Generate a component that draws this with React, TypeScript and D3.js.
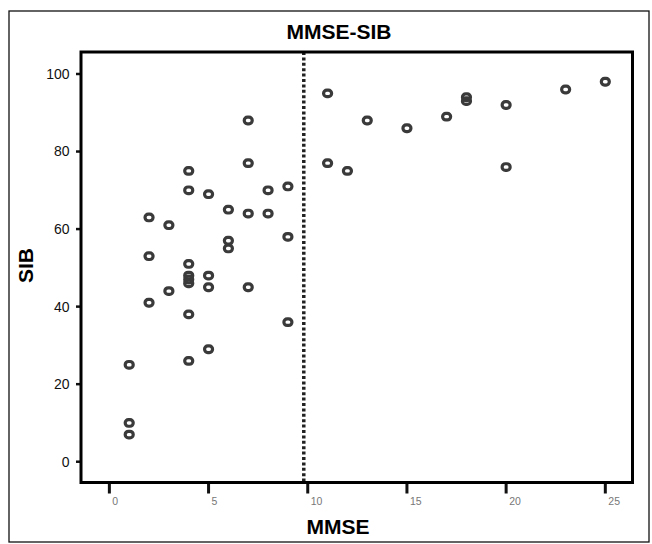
import React from "react";
import * as d3 from "d3";

const mmse = [7, 7, 4, 4, 5, 8, 9, 6, 7, 8, 2, 3, 6, 6, 9, 2, 4, 4, 4, 4, 5, 5, 7, 3, 2, 4, 9, 5, 4, 1, 1, 1, 11, 13, 15, 17, 18, 18, 20, 23, 25, 11, 12, 20];
const sib = [88, 77, 75, 70, 69, 70, 71, 65, 64, 64, 63, 61, 57, 55, 58, 53, 51, 48, 47, 46, 48, 45, 45, 44, 41, 38, 36, 29, 26, 25, 10, 7, 95, 88, 86, 89, 94, 93, 92, 96, 98, 77, 75, 76];
const xTicks = [0, 5, 10, 15, 20, 25];
const yTicks = [0, 20, 40, 60, 80, 100];
const cutoff = [9.8];
const title = "MMSE-SIB";
const xLabel = "MMSE";
const yLabel = "SIB";

export default function App() {
  const W = 652, H = 544;
  const L = 81, R = 632.5, T = 52, B = 482.5;
  const x = d3.scaleLinear().domain([-1.43, 26.37]).range([L, R]);
  const y = d3.scaleLinear().domain([-5.36, 105.67]).range([B, T]);
  const font = "'Liberation Sans', Arial, Helvetica, sans-serif";
  const points = mmse.map((m, i) => ({ m, s: sib[i] }));
  return (
    <svg width={W} height={H} style={{ position: "absolute", left: 0, top: 0, display: "block", background: "#fff" }} fontFamily={font}>
      <rect x={0} y={0} width={W} height={H} fill="#fff" />
      <rect x={9} y={11} width={640} height={531} fill="none" stroke="#111" strokeWidth={1.3} />
      <text x={339} y={38.5} textAnchor="middle" fontSize={21} fontWeight="bold" fill="#000">{title}</text>
      {yTicks.map(t => (
        <g key={"y" + t}>
          <line x1={L - 5} x2={L} y1={y(t)} y2={y(t)} stroke="#111" strokeWidth={2.5} />
          <text x={69.5} y={y(t)} dy="0.35em" textAnchor="end" fontSize={14} fill="#111">{t}</text>
        </g>
      ))}
      {xTicks.map(t => (
        <g key={"x" + t}>
          <line x1={x(t)} x2={x(t)} y1={B} y2={B + 11} stroke="#111" strokeWidth={3} />
          <text x={x(t) + 3} y={505} textAnchor="start" fontSize={10.5} fill="#777">{t}</text>
        </g>
      ))}
      {cutoff.map(c => (
        <line key={"c" + c} x1={x(c)} x2={x(c)} y1={T} y2={B} stroke="#222" strokeWidth={3.5} strokeDasharray="3,2.4" />
      ))}
      {points.map((p, i) => (
        <rect key={i} x={x(p.m) - 4} y={y(p.s) - 3.3} width={8} height={6.6} rx={3.2} ry={3.2}
          fill="none" stroke="#3a3a3a" strokeWidth={3.2} />
      ))}
      <rect x={L} y={T} width={R - L} height={B - T} fill="none" stroke="#000" strokeWidth={3} />
      <text x={338} y={533.5} textAnchor="middle" fontSize={21} fontWeight="bold" fill="#000">{xLabel}</text>
      <text transform={`translate(33,265.5) rotate(-90)`} textAnchor="middle" fontSize={21} fontWeight="bold" fill="#000">{yLabel}</text>
    </svg>
  );
}
